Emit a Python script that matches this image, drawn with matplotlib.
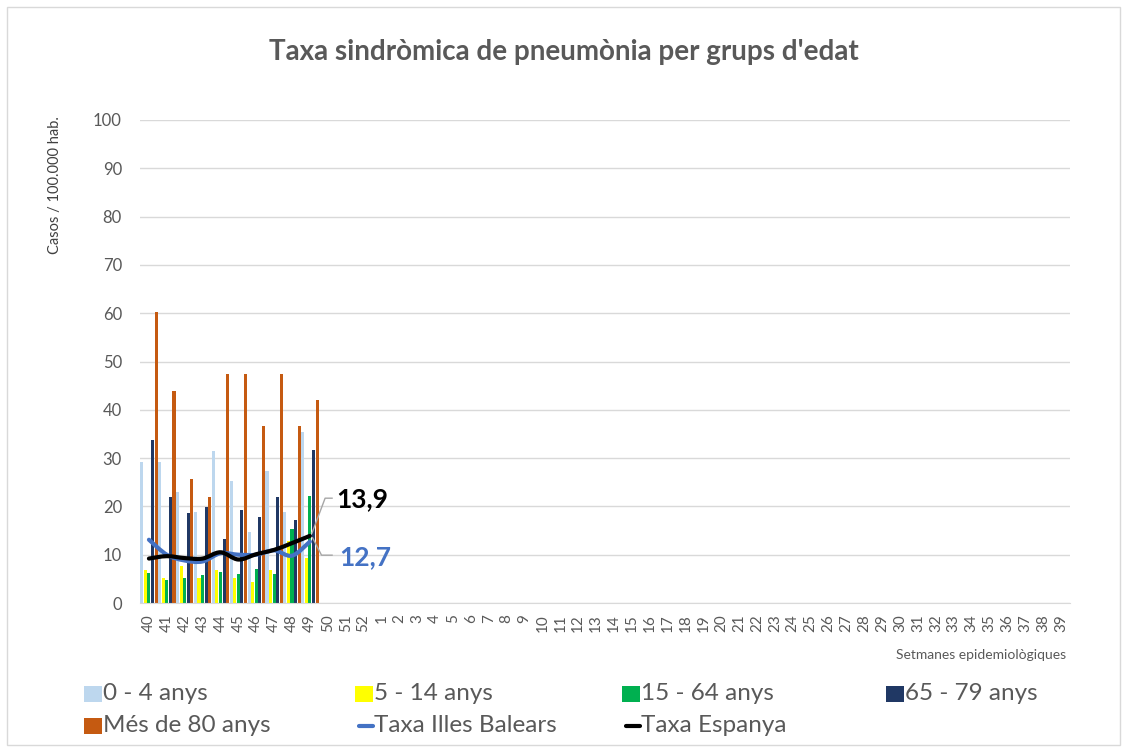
import numpy as np
import matplotlib
matplotlib.use("Agg")
import matplotlib.pyplot as plt
from matplotlib.path import Path
from matplotlib.patches import PathPatch, Rectangle
from matplotlib.lines import Line2D

plt.rcParams['font.family'] = ['Lato', 'DejaVu Sans']

weeks = [str(w) for w in list(range(40, 53)) + list(range(1, 40))]
g0_4 = [29.2, 29.2, 23.0, 18.9, 31.4, 25.2, 14.7, 27.3, 18.9, 35.5]
g5_14 = [6.8, 5.2, 7.6, 5.2, 6.8, 5.2, 4.3, 6.8, 12.8, 9.3]
g15_64 = [6.2, 4.8, 5.2, 5.7, 6.4, 6.1, 7.0, 6.1, 15.3, 22.2]
g65_79 = [33.8, 21.9, 18.6, 19.9, 13.2, 19.2, 17.9, 21.9, 17.2, 31.7]
g80 = [60.3, 43.8, 25.7, 22.0, 47.4, 47.4, 36.6, 47.4, 36.6, 42.1]
taxa_balears = [13.1, 10.0, 8.8, 8.6, 10.3, 10.0, 10.0, 10.9, 9.8, 12.7]
taxa_espanya = [9.2, 9.7, 9.3, 9.2, 10.5, 9.0, 10.1, 11.0, 12.4, 13.9]
series_names = ['0 - 4 anys', '5 - 14 anys', '15 - 64 anys', '65 - 79 anys', 'Més de 80 anys']
line_names = ['Taxa Illes Balears', 'Taxa Espanya']

colors = ['#BDD7EE', '#FFFF00', '#00B050', '#203864', '#C55A11']
c_bal = '#4472C4'
c_esp = '#000000'
grey = '#595959'

W, H = 1126, 751
fig = plt.figure(figsize=(W / 100, H / 100), dpi=100)
fig.patch.set_facecolor('white')
fig.add_artist(Rectangle((7 / W, 6 / H), 1113 / W, 738 / H, transform=fig.transFigure,
                         fill=False, edgecolor='#D9D9D9', lw=1))

ax = fig.add_axes([140 / W, 1 - 603 / H, 930 / W, 483 / H])
n = len(weeks)
x = np.arange(n)

bw = 0.2
for i, (vals, c) in enumerate(zip([g0_4, g5_14, g15_64, g65_79, g80], colors)):
    xi = np.arange(len(vals)) + (i - 2) * bw
    ax.bar(xi, vals, width=bw * 0.85, color=c, zorder=2)


def smooth_path(xs, ys):
    xs = np.asarray(xs, float)
    ys = np.asarray(ys, float)
    pts = np.column_stack([xs, ys])
    verts = [pts[0]]
    codes = [Path.MOVETO]
    t = 1 / 6.0
    for k in range(len(pts) - 1):
        p0 = pts[k - 1] if k > 0 else pts[k]
        p1 = pts[k]
        p2 = pts[k + 1]
        p3 = pts[k + 2] if k + 2 < len(pts) else pts[k + 1]
        c1 = p1 + (p2 - p0) * t
        c2 = p2 - (p3 - p1) * t
        verts += [c1, c2, p2]
        codes += [Path.CURVE4] * 3
    return Path(verts, codes)


for vals, c in [(taxa_balears, c_bal), (taxa_espanya, c_esp)]:
    p = smooth_path(np.arange(len(vals)), vals)
    ax.add_patch(PathPatch(p, facecolor='none', edgecolor=c, lw=3,
                           capstyle='round', joinstyle='round', zorder=3))

# labels for last values
last = len(taxa_espanya) - 1
ax.plot([last + 0.12, last + 0.85, last + 1.24], [14.5, 21.7, 21.7],
        color='#A6A6A6', lw=1, zorder=4)
ax.plot([last + 0.15, last + 0.65, last + 1.24], [13.5, 9.9, 9.9],
        color='#A6A6A6', lw=1, zorder=4)
ax.text(last + 1.45, 21.5, f"{taxa_espanya[-1]:.1f}".replace('.', ','), color=c_esp,
        fontsize=19, fontweight='bold', va='center', ha='left')
ax.text(last + 1.62, 9.5, f"{taxa_balears[-1]:.1f}".replace('.', ','), color=c_bal,
        fontsize=19, fontweight='bold', va='center', ha='left')

ax.set_xlim(-0.5, n - 0.5)
ax.set_ylim(0, 100)
ax.set_yticks(np.arange(0, 101, 10))
ax.set_xticks(x)
ax.set_xticklabels(weeks, rotation=90, fontsize=11, color=grey)
ax.tick_params(axis='y', labelsize=12, colors=grey, length=0, pad=13)
ax.tick_params(axis='x', length=0, pad=8)
ax.yaxis.grid(True, color='#D9D9D9', lw=1, zorder=0)
ax.set_axisbelow(True)
for s in ['top', 'right', 'left']:
    ax.spines[s].set_visible(False)
ax.spines['bottom'].set_color('#D9D9D9')

fig.text(564 / W, 1 - 52 / H, "Taxa sindròmica de pneumònia per grups d'edat",
         ha='center', va='center', fontsize=20, fontweight='bold', color=grey)
fig.text(55 / W, 1 - 185 / H, 'Casos / 100.000 hab.', rotation=90, ha='center',
         va='center', fontsize=10.5, color='#404040')
fig.text(1066 / W, 1 - 655 / H, 'Setmanes epidemiològiques', ha='right', va='center',
         fontsize=10, color=grey)

# legend
leg_items = [
    ('patch', colors[0], series_names[0], 84, 694),
    ('patch', colors[1], series_names[1], 355, 694),
    ('patch', colors[2], series_names[2], 622, 694),
    ('patch', colors[3], series_names[3], 886, 694),
    ('patch', colors[4], series_names[4], 84, 726),
    ('line', c_bal, line_names[0], 355, 726),
    ('line', c_esp, line_names[1], 622, 726),
]
for kind, c, label, px, py in leg_items:
    if kind == 'patch':
        fig.add_artist(Rectangle((px / W, 1 - (py + 8) / H), 18 / W, 16 / H,
                                 transform=fig.transFigure, facecolor=c, edgecolor='none'))
    else:
        fig.add_artist(Line2D([(px + 4) / W, (px + 18) / W], [1 - py / H, 1 - py / H],
                              transform=fig.transFigure, color=c, lw=3,
                              solid_capstyle='round'))
    fig.text((px + 19) / W, 1 - py / H, label, ha='left', va='center', fontsize=17.5,
             color=grey)

fig.savefig('out.png', dpi=100)
